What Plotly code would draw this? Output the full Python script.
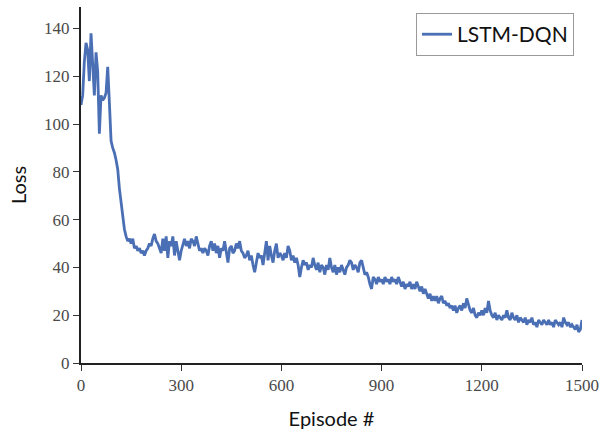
import plotly.graph_objects as go

episodes = list(range(0, 1501, 5))

loss = [
    # 0-95
    108, 112, 126, 134, 131, 118, 138, 124, 112, 130, 122, 96, 112, 110, 111, 113, 124, 109, 93, 90,
    # 100-195
    88, 85, 81, 73, 67, 61, 56, 53, 51, 52, 50, 52, 48, 49, 47, 48, 46, 47, 45, 47,
    # 200-295
    48, 50, 49, 52, 54, 51, 50, 48, 46, 52, 47, 53, 44, 51, 49, 53, 45, 51, 47, 43,
    # 300-395
    47, 50, 52, 49, 51, 48, 52, 51, 49, 53, 50, 47, 48, 46, 48, 47, 45, 49, 51, 47,
    # 400-495
    50, 46, 49, 44, 48, 47, 51, 46, 42, 48, 49, 46, 47, 50, 48, 51, 47, 46, 44, 45,
    # 500-595
    47, 43, 45, 41, 38, 42, 46, 44, 45, 41, 47, 51, 43, 49, 45, 42, 47, 50, 44, 46,
    # 600-695
    45, 43, 46, 44, 49, 47, 43, 45, 42, 44, 41, 36, 40, 43, 41, 42, 39, 41, 40, 44,
    # 700-795
    41, 39, 42, 38, 41, 40, 37, 41, 39, 44, 40, 38, 41, 37, 40, 38, 41, 39, 37, 40,
    # 800-895
    41, 43, 42, 39, 41, 40, 38, 42, 43, 40, 37, 38, 36, 33, 31, 36, 35, 33, 36, 34,
    # 900-995
    35, 33, 36, 34, 35, 33, 36, 34, 35, 33, 36, 34, 32, 34, 31, 33, 32, 34, 31, 33,
    # 1000-1095
    31, 34, 32, 30, 32, 29, 31, 29, 27, 29, 26, 28, 26, 28, 25, 27, 28, 25, 26, 24,
    # 1100-1195
    25, 23, 24, 22, 24, 21, 23, 24, 22, 25, 23, 27, 24, 22, 21, 23, 20, 19, 21, 20,
    # 1200-1295
    22, 20, 23, 21, 26, 22, 20, 19, 21, 18, 20, 19, 18, 20, 19, 22, 19, 18, 21, 19,
    # 1300-1395
    18, 20, 17, 19, 18, 17, 19, 16, 18, 17, 19, 16, 17, 15, 18, 17, 16, 18, 17, 16,
    # 1400-1500
    18, 16, 17, 15, 18, 17, 16, 17, 15, 19, 17, 16, 17, 15, 16, 15, 14, 16, 13, 14, 18,
]

x_ticks = [0, 300, 600, 900, 1200, 1500]
y_ticks = [0, 20, 40, 60, 80, 100, 120, 140]

fig = go.Figure()
fig.add_trace(go.Scatter(
    x=episodes, y=loss, mode="lines", name="LSTM-DQN",
    line=dict(color="#4a6fb5", width=2.8),
))

tick_font = dict(family="Liberation Serif", size=17, color="#4a4a4a")
title_font = dict(family="Lato", size=20, color="#111111")

fig.update_layout(
    width=609, height=433,
    margin=dict(l=81, r=27, t=7, b=70),
    paper_bgcolor="white", plot_bgcolor="white",
    showlegend=True,
    legend=dict(
        x=0.984, y=0.983, xanchor="right", yanchor="top",
        bordercolor="#9a9a9a", borderwidth=1, bgcolor="white",
        font=dict(family="Lato", size=21, color="#111111"),
        itemwidth=30, tracegroupgap=0,
    ),
    xaxis=dict(
        range=[0, 1500], tickvals=x_ticks, ticks="outside", ticklen=6, tickwidth=1.2,
        tickcolor="#333333", showline=True, linecolor="#222222", linewidth=2,
        showgrid=False, zeroline=False, tickfont=tick_font,
        title=dict(text="Episode #", font=title_font, standoff=18),
    ),
    yaxis=dict(
        range=[0, 149], tickvals=y_ticks, ticks="outside", ticklen=6, tickwidth=1.2,
        tickcolor="#333333", showline=True, linecolor="#222222", linewidth=2,
        showgrid=False, zeroline=False, tickfont=tick_font,
        title=dict(text="Loss", font=title_font, standoff=12),
    ),
)

fig.write_html("out.html")
